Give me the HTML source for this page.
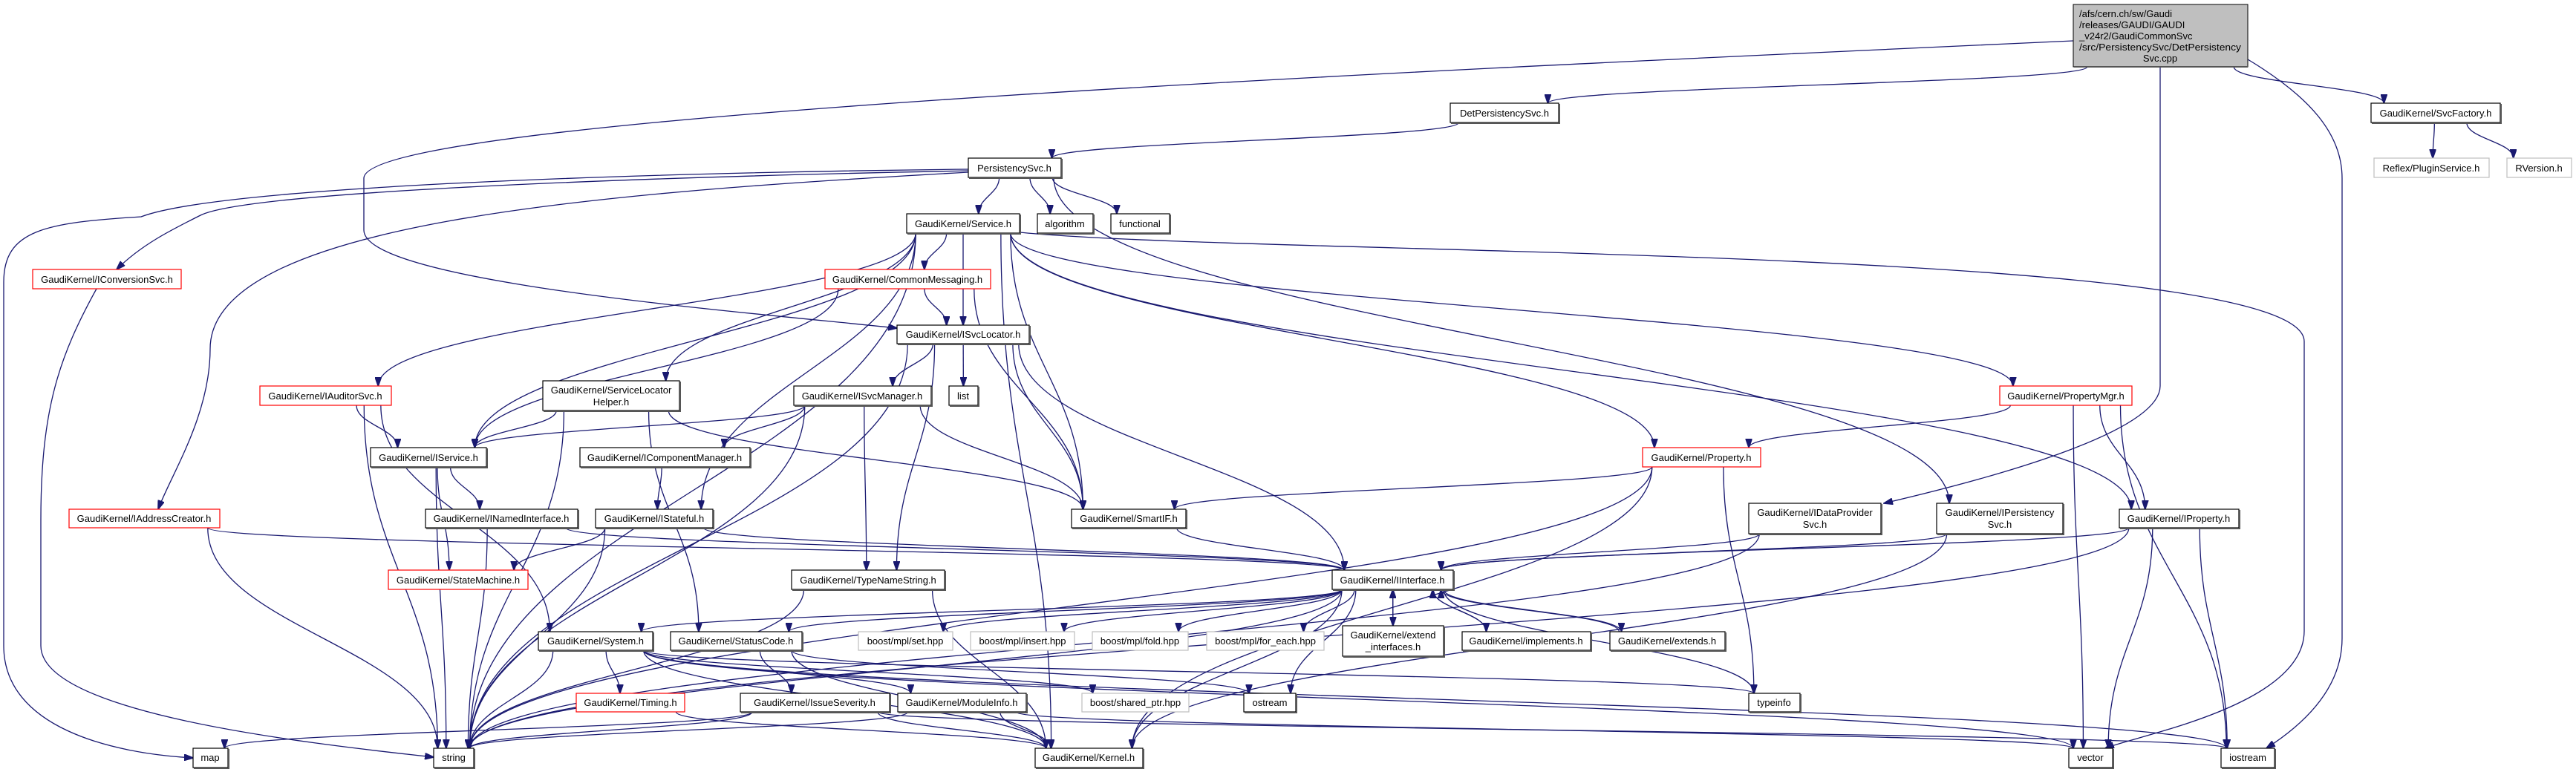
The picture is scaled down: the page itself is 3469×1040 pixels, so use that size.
<!DOCTYPE html>
<html><head><meta charset="utf-8">
<style>
html,body{margin:0;padding:0;background:#fff;}
svg{display:block;}
text{font-family:"Liberation Sans",sans-serif;font-size:13px;fill:#000;}
</style></head>
<body>
<svg id="g" width="3469" height="1040" viewBox="0 0 3469 1040" xmlns="http://www.w3.org/2000/svg">
<defs>
<marker id="ar" markerWidth="13" markerHeight="9" refX="12" refY="4.5" orient="auto" markerUnits="userSpaceOnUse">
<path d="M0,0 L13,4.5 L0,9 z" fill="#191970" stroke="#191970"/>
</marker>
</defs>
<g id="edges"></g>
<g id="nodes">
<rect x="2792" y="6" width="235" height="84" fill="#bfbfbf" stroke="#000" stroke-width="1"/>
<line x1="2793" y1="90" x2="3027" y2="90" stroke="#555" stroke-width="2"/>
<text x="2800" y="23">/afs/cern.ch/sw/Gaudi</text>
<text x="2800" y="38">/releases/GAUDI/GAUDI</text>
<text x="2800" y="53">_v24r2/GaudiCommonSvc</text>
<text x="2800" y="68" textLength="218" lengthAdjust="spacingAndGlyphs">/src/PersistencySvc/DetPersistency</text>
<text x="2909" y="83" text-anchor="middle">Svc.cpp</text>
</g>
</svg>
<script>
var N={
DP:[1953,139,2099,165,"DetPersistencySvc.h","b"],
SF:[3193,139,3367,165,"GaudiKernel/SvcFactory.h","b"],
RP:[3197,213,3352,239,"Reflex/PluginService.h","g"],
RV:[3376,213,3463,239,"RVersion.h","g"],
PS:[1304,213,1429,239,"PersistencySvc.h","b"],
SV:[1221,288,1373,314,"GaudiKernel/Service.h","b"],
AL:[1397,288,1472,314,"algorithm","b"],
FN:[1496,288,1575,314,"functional","b"],
IC:[44,363,244,389,"GaudiKernel/IConversionSvc.h","r"],
CM:[1111,363,1334,389,"GaudiKernel/CommonMessaging.h","r"],
SL:[1208,438,1386,463,"GaudiKernel/ISvcLocator.h","b"],
IA:[350,520,527,546,"GaudiKernel/IAuditorSvc.h","r"],
SH:[731,513,915,553,"GaudiKernel/ServiceLocator|Helper.h","b"],
SM:[1069,520,1254,546,"GaudiKernel/ISvcManager.h","b"],
LI:[1278,520,1317,546,"list","b"],
PM:[2693,520,2871,546,"GaudiKernel/PropertyMgr.h","r"],
IS:[499,603,655,629,"GaudiKernel/IService.h","b"],
CPM:[781,603,1010,629,"GaudiKernel/IComponentManager.h","b"],
PR:[2212,603,2371,629,"GaudiKernel/Property.h","r"],
AC:[93,686,296,711,"GaudiKernel/IAddressCreator.h","r"],
NI:[573,686,778,711,"GaudiKernel/INamedInterface.h","b"],
ST:[802,686,960,711,"GaudiKernel/IStateful.h","b"],
SI:[1443,686,1597,711,"GaudiKernel/SmartIF.h","b"],
DPS:[2355,678,2533,719,"GaudiKernel/IDataProvider|Svc.h","b"],
IPS:[2608,678,2778,719,"GaudiKernel/IPersistency|Svc.h","b"],
IP:[2854,686,3015,711,"GaudiKernel/IProperty.h","b"],
SMc:[523,768,711,794,"GaudiKernel/StateMachine.h","r"],
TN:[1066,768,1272,794,"GaudiKernel/TypeNameString.h","b"],
II:[1794,768,1957,794,"GaudiKernel/IInterface.h","b"],
SY:[725,851,879,876,"GaudiKernel/System.h","b"],
SC:[903,851,1080,876,"GaudiKernel/StatusCode.h","b"],
B1:[1156,851,1283,876,"boost/mpl/set.hpp","g"],
B2:[1307,851,1447,876,"boost/mpl/insert.hpp","g"],
B3:[1471,851,1600,876,"boost/mpl/fold.hpp","g"],
B4:[1625,851,1783,876,"boost/mpl/for_each.hpp","g"],
EI:[1808,843,1944,884,"GaudiKernel/extend|_interfaces.h","b"],
IM:[1969,851,2142,876,"GaudiKernel/implements.h","b"],
EX:[2168,851,2323,876,"GaudiKernel/extends.h","b"],
TM:[776,934,922,959,"GaudiKernel/Timing.h","r"],
ISv:[997,934,1198,959,"GaudiKernel/IssueSeverity.h","b"],
MI:[1209,934,1382,959,"GaudiKernel/ModuleInfo.h","b"],
BS:[1457,934,1601,959,"boost/shared_ptr.hpp","g"],
OS:[1675,934,1745,959,"ostream","b"],
TI:[2355,934,2424,959,"typeinfo","b"],
MP:[260,1008,307,1034,"map","b"],
STR:[584,1008,638,1034,"string","b"],
KE:[1394,1008,1539,1034,"GaudiKernel/Kernel.h","b"],
VE:[2786,1008,2845,1034,"vector","b"],
IO:[2991,1008,3063,1034,"iostream","b"],
T:[2792,6,3027,90,"","x"]
};
var OV={
"PS-MP":"M1304,228 C900,232 300,250 190,292 C60,300 5,310 5,380 L5,870 C5,980 150,1015 260,1021",
"PS-IC":"M1304,230 C800,240 330,260 270,290 C230,310 190,330 157,363",
"PS-AC":"M1304,232 C800,260 283,300 283,470 C283,560 230,640 213,686",
"T-SL":"M2792,55 C1800,100 490,160 490,240 L490,310 C490,380 1000,420 1208,442",
"IC-STR":"M130,389 C80,480 55,550 55,700 L55,870 C55,960 400,1000 584,1020",
"T-DPS":"M2909,90 L2909,520 C2909,580 2700,640 2537,678",
"T-IO":"M3027,80 C3110,130 3154,180 3154,240 L3154,860 C3154,940 3080,990 3052,1008",
"SV-VE":"M1373,313 C1700,345 3103,330 3103,460 L3103,850 C3103,950 2880,990 2835,1008"
};
var E="T-DP T-SF T-SL T-DPS T-IO SF-RP SF-RV DP-PS PS-SV PS-AL PS-FN PS-MP PS-IC PS-AC PS-IPS "+
"SV-CM SV-SL SV-IA SV-SH SV-IS SV-ST SV-SI SV-PR SV-PM SV-IP SV-VE SV-STR SV-KE "+
"CM-SL CM-IS CM-SI IC-STR AC-STR AC-II IA-IS IA-STR IA-SY SH-IS SH-STR SH-SI SH-SC "+
"SL-SM SL-LI SL-SI SL-II SL-TN SL-STR SM-IS SM-CPM SM-SI SM-TN SM-STR CPM-ST "+
"IS-NI IS-SMc IS-STR NI-II NI-STR ST-SMc ST-STR ST-II SI-II PR-SI PR-TI PR-STR PR-KE "+
"PM-PR PM-IP PM-VE PM-IO DPS-II DPS-STR IPS-II IPS-KE IP-II IP-STR IP-VE IP-IO TN-STR TN-KE "+
"II-SY II-SC II-B1 II-B2 II-B3 II-B4 II-EI II-IM II-EX II-TI II-OS II-KE II-STR EI-II IM-II EX-II "+
"SY-TM SY-MI SY-BS SY-KE SY-STR SY-TI SY-VE SY-IO SC-ISv SC-KE SC-OS ISv-MP ISv-STR ISv-KE ISv-IO MI-KE MI-STR MI-VE TM-KE";
var NS="http://www.w3.org/2000/svg";
var eg=document.getElementById("edges"),ng=document.getElementById("nodes");
function cl(v,a,b){return Math.max(a,Math.min(b,v));}
E.split(/\s+/).forEach(function(p){
 var a=p.split("-"),s=N[a[0]],t=N[a[1]];if(!s||!t)return;
 var scx=(s[0]+s[2])/2,tcx=(t[0]+t[2])/2,sw=(s[2]-s[0]),tw=(t[2]-t[0]);
 var sx,sy,ex,ey,d;
 if(OV[p]){d=OV[p];}
 else if(t[1]>=s[3]-2){
  sx=scx+cl((tcx-scx)*0.3,-sw*0.42,sw*0.42);sy=s[3];
  ex=tcx+cl((scx-tcx)*0.3,-tw*0.4,tw*0.4);ey=t[1];
  var dy=ey-sy;
  d="M"+sx+","+sy+" C"+sx+","+(sy+dy*0.45)+" "+ex+","+(ey-dy*0.45)+" "+ex+","+ey;
 }else{
  sx=scx+cl((tcx-scx)*0.3,-sw*0.42,sw*0.42);sy=s[1];
  ex=tcx+cl((scx-tcx)*0.3,-tw*0.4,tw*0.4);ey=t[3];
  var dy=sy-ey;
  d="M"+sx+","+sy+" C"+sx+","+(sy-dy*0.45)+" "+ex+","+(ey+dy*0.45)+" "+ex+","+ey;
 }
 var pa=document.createElementNS(NS,"path");
 pa.setAttribute("d",d);pa.setAttribute("fill","none");pa.setAttribute("stroke","#191970");
 pa.setAttribute("stroke-width","1.3");pa.setAttribute("marker-end","url(#ar)");
 eg.appendChild(pa);
});
for(var k in N){var n=N[k];if(n[5]=="x")continue;
 var r=document.createElementNS(NS,"rect");
 r.setAttribute("x",n[0]);r.setAttribute("y",n[1]);r.setAttribute("width",n[2]-n[0]);r.setAttribute("height",n[3]-n[1]);
 r.setAttribute("fill","#fff");
 r.setAttribute("stroke",n[5]=="r"?"#ff0000":(n[5]=="g"?"#bfbfbf":"#000"));
 r.setAttribute("stroke-width","1.2");ng.appendChild(r);
 if(n[5]=="b"){var l=document.createElementNS(NS,"path");
  l.setAttribute("d","M"+(n[0]+1)+","+(n[3]+1)+" H"+(n[2]+1)+" V"+(n[1]+1));
  l.setAttribute("stroke","#555");l.setAttribute("stroke-width","2");l.setAttribute("fill","none");ng.appendChild(l);}
}
</script>
<svg width="3469" height="1040" style="position:absolute;left:0;top:0" xmlns="http://www.w3.org/2000/svg">
<g font-family="Liberation Sans, sans-serif" font-size="13" text-anchor="middle">
<text x="2026" y="157">DetPersistencySvc.h</text>
<text x="3280" y="157">GaudiKernel/SvcFactory.h</text>
<text x="3274" y="231">Reflex/PluginService.h</text>
<text x="3419" y="231">RVersion.h</text>
<text x="1366" y="231">PersistencySvc.h</text>
<text x="1297" y="306">GaudiKernel/Service.h</text>
<text x="1434" y="306">algorithm</text>
<text x="1535" y="306">functional</text>
<text x="144" y="381">GaudiKernel/IConversionSvc.h</text>
<text x="1222" y="381">GaudiKernel/CommonMessaging.h</text>
<text x="1297" y="455">GaudiKernel/ISvcLocator.h</text>
<text x="438" y="538">GaudiKernel/IAuditorSvc.h</text>
<text x="823" y="530">GaudiKernel/ServiceLocator</text>
<text x="823" y="546">Helper.h</text>
<text x="1161" y="538">GaudiKernel/ISvcManager.h</text>
<text x="1297" y="538">list</text>
<text x="2782" y="538">GaudiKernel/PropertyMgr.h</text>
<text x="577" y="621">GaudiKernel/IService.h</text>
<text x="895" y="621">GaudiKernel/IComponentManager.h</text>
<text x="2291" y="621">GaudiKernel/Property.h</text>
<text x="194" y="703">GaudiKernel/IAddressCreator.h</text>
<text x="675" y="703">GaudiKernel/INamedInterface.h</text>
<text x="881" y="703">GaudiKernel/IStateful.h</text>
<text x="1520" y="703">GaudiKernel/SmartIF.h</text>
<text x="2444" y="695">GaudiKernel/IDataProvider</text>
<text x="2444" y="711">Svc.h</text>
<text x="2693" y="695">GaudiKernel/IPersistency</text>
<text x="2693" y="711">Svc.h</text>
<text x="2934" y="703">GaudiKernel/IProperty.h</text>
<text x="617" y="786">GaudiKernel/StateMachine.h</text>
<text x="1169" y="786">GaudiKernel/TypeNameString.h</text>
<text x="1875" y="786">GaudiKernel/IInterface.h</text>
<text x="802" y="868">GaudiKernel/System.h</text>
<text x="991" y="868">GaudiKernel/StatusCode.h</text>
<text x="1219" y="868">boost/mpl/set.hpp</text>
<text x="1377" y="868">boost/mpl/insert.hpp</text>
<text x="1535" y="868">boost/mpl/fold.hpp</text>
<text x="1704" y="868">boost/mpl/for_each.hpp</text>
<text x="1876" y="860">GaudiKernel/extend</text>
<text x="1876" y="876">_interfaces.h</text>
<text x="2055" y="868">GaudiKernel/implements.h</text>
<text x="2245" y="868">GaudiKernel/extends.h</text>
<text x="849" y="951">GaudiKernel/Timing.h</text>
<text x="1097" y="951">GaudiKernel/IssueSeverity.h</text>
<text x="1295" y="951">GaudiKernel/ModuleInfo.h</text>
<text x="1529" y="951">boost/shared_ptr.hpp</text>
<text x="1710" y="951">ostream</text>
<text x="2389" y="951">typeinfo</text>
<text x="283" y="1025">map</text>
<text x="611" y="1025">string</text>
<text x="1466" y="1025">GaudiKernel/Kernel.h</text>
<text x="2815" y="1025">vector</text>
<text x="3027" y="1025">iostream</text>
</g>
</svg>
</body></html>
